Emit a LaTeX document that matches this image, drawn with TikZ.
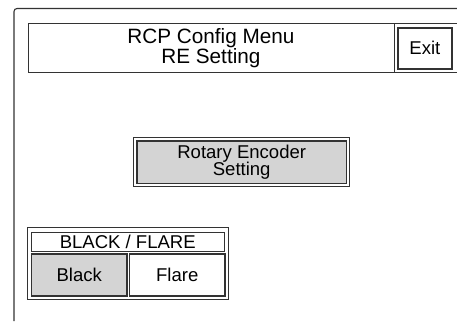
\documentclass[tikz,border=0pt]{standalone}
\usepackage{fontspec}
\setmainfont{Liberation Sans}
\tikzset{
  cell/.style={draw=black!80, line width=0.8bp, rectangle, inner sep=0pt, anchor=north west},
  btn/.style={cell, line width=1.7bp},
  lit/.style={fill=black!17},
  big/.style={font=\fontsize{20.8}{17.6}\selectfont, align=center},
  small/.style={font=\fontsize{18.6}{17.4}\selectfont, align=center}
}
\begin{document}
\begin{tikzpicture}[x=1bp,y=-1bp]
\useasboundingbox (0,0) rectangle (457,321);
% panel frame
\draw[black!80, line width=1.1bp, rounded corners=3bp] (14,321) -- (14,8.5) -- (457,8.5);

% title bar
\node [cell, big, minimum width=366bp, minimum height=49bp] (title) at (27.5,23) {RCP Config Menu\\RE Setting};
\node [cell, minimum width=63bp, minimum height=49bp] (exitcell) at (393.5,23) {};
\node [btn, small, minimum width=54bp, minimum height=41bp] (exit) at (397,27) {Exit};

% rotary encoder
\node [cell, minimum width=216.6bp, minimum height=49.3bp] (recell) at (132.7,136.7) {};
\node [btn, lit, small, minimum width=209.7bp, minimum height=42.7bp] (re) at (136,140) {Rotary Encoder\\Setting};

% black / flare
\node [cell, minimum width=201.3bp, minimum height=71.7bp] (bfcell) at (26.7,227.3) {};
\node [cell, small, minimum width=193.3bp, minimum height=19bp] (bf) at (30.7,231.7) {BLACK / FLARE};
\node [btn, lit, small, minimum width=95.3bp, minimum height=41.7bp] (black) at (30.7,253.3) {Black};
\node [btn, small, minimum width=95.3bp, minimum height=41.7bp] (flare) at (128.7,253.3) {Flare};
\end{tikzpicture}
\end{document}
